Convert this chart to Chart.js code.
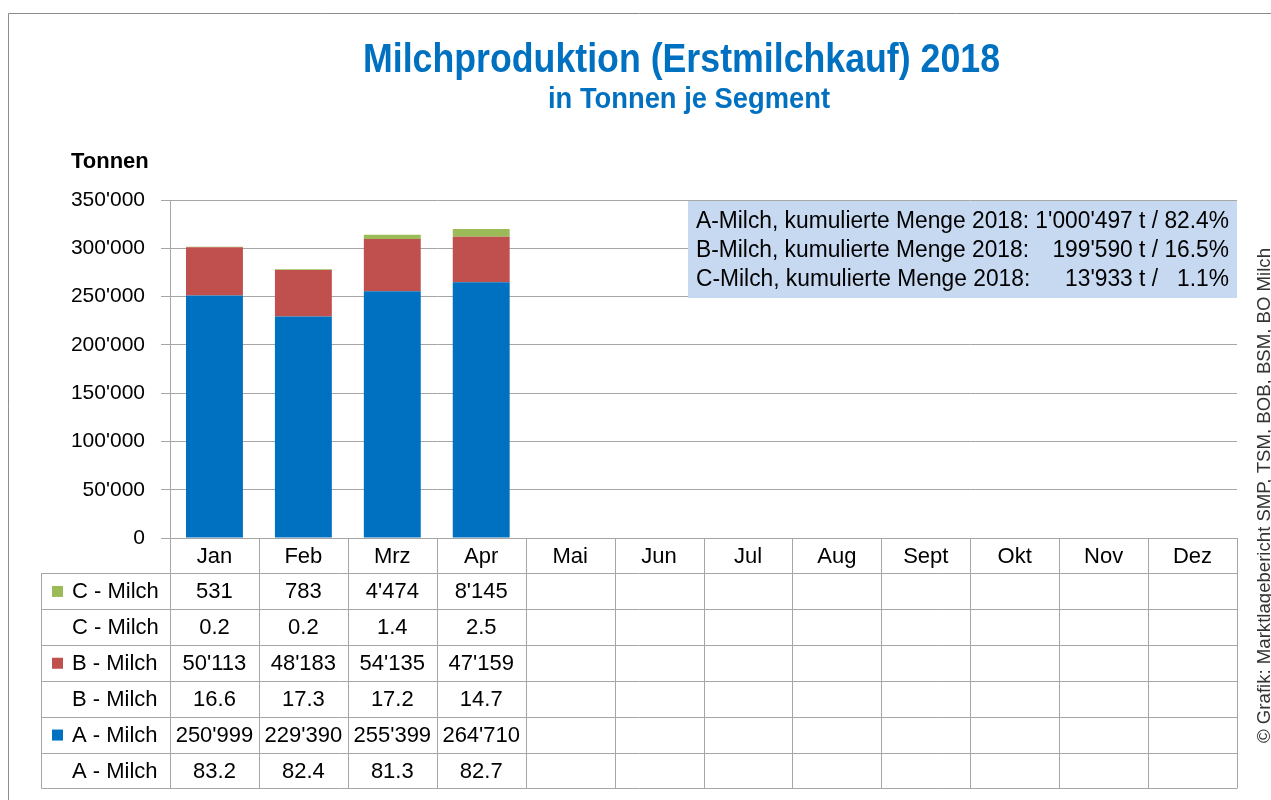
<!DOCTYPE html>
<html>
<head>
<meta charset="utf-8">
<script src="https://cdn.jsdelivr.net/npm/chart.js@4"></script>
<style>
  html, body { margin: 0; padding: 0; background: #fff; }
  #wrap { width: 1271px; height: 800px; }
</style>
</head>
<body>
<div id="wrap"><canvas id="milk" width="1271" height="800"></canvas></div>
<script>
const months = ["Jan","Feb","Mrz","Apr","Mai","Jun","Jul","Aug","Sept","Okt","Nov","Dez"];
const milchA = [250999, 229390, 255399, 264710, null, null, null, null, null, null, null, null];
const milchB = [50113, 48183, 54135, 47159, null, null, null, null, null, null, null, null];
const milchC = [531, 783, 4474, 8145, null, null, null, null, null, null, null, null];
const shareA = [83.2, 82.4, 81.3, 82.7];
const shareB = [16.6, 17.3, 17.2, 14.7];
const shareC = [0.2, 0.2, 1.4, 2.5];
const cumNames  = ["A-Milch", "B-Milch", "C-Milch"];
const cumTotals = [1000497, 199590, 13933];
const cumShares = [82.4, 16.5, 1.1];

const COL_A = "#0070C0", COL_B = "#C0504D", COL_C = "#9BBB59";
const FONT = "'Liberation Sans', Arial, sans-serif";
const GRID = "#a6a6a6";

const fmt = n => String(n).replace(/\B(?=(\d{3})+(?!\d))/g, "'");

// table rows under the x axis: [label, colour or null, values]
const tableRows = [
  ["C - Milch", COL_C, milchC.map(v => v == null ? "" : fmt(v))],
  ["C - Milch", null,  shareC.map(v => v.toFixed(1))],
  ["B - Milch", COL_B, milchB.map(v => v == null ? "" : fmt(v))],
  ["B - Milch", null,  shareB.map(v => v.toFixed(1))],
  ["A - Milch", COL_A, milchA.map(v => v == null ? "" : fmt(v))],
  ["A - Milch", null,  shareA.map(v => v.toFixed(1))]
];

// draw text squeezed horizontally by sx (stand-in for Arial Narrow)
function narrow(c, text, x, y, align, sx) {
  c.save();
  c.translate(x, y); c.scale(sx, 1);
  c.textAlign = align;
  c.fillText(text, 0, 0);
  c.restore();
}
const fitScale = (c, text, width) => Math.min(1, width / c.measureText(text).width);

const decor = {
  id: "decor",
  afterDraw(chart) {
    const c = chart.ctx, ca = chart.chartArea, x = chart.scales.x;
    const w = (ca.right - ca.left) / months.length;
    const headH = 35, rowH = 35.9, tabLeft = 41;
    c.save();

    // frame
    c.strokeStyle = "#8c8c8c"; c.lineWidth = 1;
    c.beginPath(); c.moveTo(8.5, 800); c.lineTo(8.5, 13.5); c.lineTo(1271, 13.5); c.stroke();

    // titles
    c.fillStyle = COL_A; c.textBaseline = "alphabetic";
    c.font = "bold 40px " + FONT;
    let t = "Milchproduktion (Erstmilchkauf) 2018";
    narrow(c, t, 681.5, 72, "center", fitScale(c, t, 637));
    c.font = "bold 29px " + FONT;
    t = "in Tonnen je Segment";
    narrow(c, t, 689, 108, "center", fitScale(c, t, 282));
    c.fillStyle = "#000"; c.textAlign = "left";
    c.font = "bold 22px " + FONT;
    c.fillText("Tonnen", 71, 168);

    // data table
    const top = ca.bottom, bot = top + headH + rowH * tableRows.length;
    c.strokeStyle = GRID; c.lineWidth = 1;
    c.beginPath();
    for (let i = 0; i <= months.length; i++) {
      const px = Math.round(ca.left + i * w) + 0.5;
      c.moveTo(px, top); c.lineTo(px, bot);
    }
    for (let r = 0; r <= tableRows.length; r++) {
      const py = Math.round(top + headH + r * rowH) + 0.5;
      c.moveTo(tabLeft + 0.5, py); c.lineTo(ca.right, py);
    }
    c.moveTo(tabLeft + 0.5, top + headH); c.lineTo(tabLeft + 0.5, bot);
    c.stroke();

    c.fillStyle = "#000"; c.textBaseline = "middle"; c.textAlign = "center";
    c.font = "22px " + FONT;
    months.forEach((m, i) => c.fillText(m, x.getPixelForValue(i), top + headH / 2 + 1));
    tableRows.forEach((row, r) => {
      const cy = top + headH + r * rowH + rowH / 2 + 1;
      if (row[1]) { c.fillStyle = row[1]; c.fillRect(52, cy - 6, 11, 11); }
      c.fillStyle = "#000"; c.textAlign = "left";
      c.fillText(row[0], 72, cy);
      c.textAlign = "center";
      row[2].forEach((v, i) => { if (v) c.fillText(v, x.getPixelForValue(i), cy); });
    });

    // cumulated totals box
    const bx = 688, by = ca.top + 1, bw = ca.right - bx, bh = 97, tx = 696, tr = 1229;
    c.fillStyle = "#C6D9F1"; c.fillRect(bx, by, bw, bh);
    c.fillStyle = "#000"; c.font = "23px " + FONT;
    const lab = i => cumNames[i] + ", kumulierte Menge 2018:";
    const pct = i => cumShares[i].toFixed(1) + "%";
    const sx = fitScale(c, lab(0) + " " + fmt(cumTotals[0]) + " t / " + pct(0), tr - tx);
    const pctW = c.measureText(" " + pct(0)).width * sx;
    cumNames.forEach((n, i) => {
      const cy = by + 21 + i * 29;
      narrow(c, lab(i), tx, cy, "left", sx);
      narrow(c, fmt(cumTotals[i]) + " t /", tr - pctW, cy, "right", sx);
      narrow(c, pct(i), tr, cy, "right", sx);
    });

    // source note
    c.translate(1265, 495.5); c.rotate(-Math.PI / 2);
    c.fillStyle = "#333"; c.font = "19px " + FONT;
    t = "\u00a9 Grafik: Marktlagebericht SMP, TSM, BOB, BSM, BO Milch";
    narrow(c, t, 0, 0, "center", fitScale(c, t, 495));
    c.restore();
  }
};

new Chart(document.getElementById("milk"), {
  type: "bar",
  data: {
    labels: months,
    datasets: [
      { label: "A - Milch", data: milchA, backgroundColor: COL_A },
      { label: "B - Milch", data: milchB, backgroundColor: COL_B },
      { label: "C - Milch", data: milchC, backgroundColor: COL_C }
    ]
  },
  options: {
    responsive: false,
    animation: false,
    events: [],
    layout: { padding: { left: 0, top: 200, right: 34, bottom: 12 } },
    datasets: { bar: { categoryPercentage: 1, barPercentage: 0.64 } },
    plugins: { legend: { display: false }, title: { display: false }, tooltip: { enabled: false } },
    scales: {
      x: {
        stacked: true,
        grid: { display: false },
        border: { display: false },
        ticks: { display: false },
        afterFit: s => { s.height = 250; }
      },
      y: {
        stacked: true,
        min: 0, max: 350000,
        grid: { color: GRID, tickLength: 9 },
        border: { display: true, color: GRID },
        ticks: {
          stepSize: 50000, color: "#000", padding: 16,
          font: { family: FONT, size: 21 },
          callback: v => fmt(v)
        },
        afterFit: s => { s.width = 170; }
      }
    }
  },
  plugins: [decor]
});
</script>
</body>
</html>
